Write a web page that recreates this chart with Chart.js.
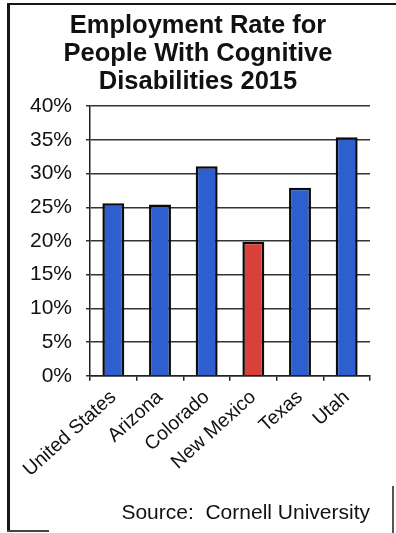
<!DOCTYPE html>
<html>
<head>
<meta charset="utf-8">
<title>Employment Rate for People With Cognitive Disabilities 2015</title>
<script src="https://cdn.jsdelivr.net/npm/chart.js@4.4.1/dist/chart.umd.min.js"></script>
<style>
  html, body { margin: 0; padding: 0; background: #fff; }
  #wrap { position: relative; width: 396px; height: 533px; overflow: hidden; }
  #wrap canvas { position: absolute; left: 0; top: 0; }
  .edge { position: absolute; background: #161616; }
</style>
</head>
<body>
<div id="wrap">
  <canvas id="chart" width="396" height="533"></canvas>
  <!-- frame around the figure -->
  <div class="edge" style="left:7px; top:3px; width:3px; height:528px;"></div>
  <div class="edge" style="left:7px; top:3px; width:389px; height:2px;"></div>
  <div class="edge" style="left:392px; top:486px; width:2px; height:47px; background:#555;"></div>
  <div class="edge" style="left:7px; top:530px; width:42px; height:2px; background:#444;"></div>
</div>
<script>
const states = ['United States', 'Arizona', 'Colorado', 'New Mexico', 'Texas', 'Utah'];
const rates = [25.6, 25.4, 31.1, 19.9, 27.9, 35.4];
const highlightState = 'New Mexico';

const titleLines = ['Employment Rate for', 'People With Cognitive', 'Disabilities 2015'];
const sourceText = 'Source:  Cornell University';

const FONT = "'Liberation Sans', Arial, Helvetica, sans-serif";
const INK = '#111';

new Chart(document.getElementById('chart'), {
    type: 'bar',
    data: {
        labels: states,
        datasets: [{
            data: rates,
            backgroundColor: ctx => states[ctx.dataIndex] === highlightState ? '#d8403a' : '#2d5fcf',
            borderColor: '#0b0b0b',
            borderWidth: 2.5,
            borderSkipped: 'bottom',
            categoryPercentage: 1,
            barPercentage: 0.47
        }]
    },
    options: {
        responsive: false,
        devicePixelRatio: 1,
        animation: false,
        layout: { padding: { left: 26, right: 26, top: 0, bottom: 0 } },
        plugins: {
            legend: { display: false },
            tooltip: { enabled: false },
            title: {
                display: true,
                text: titleLines,
                color: INK,
                font: { family: FONT, size: 25.5, weight: 'bold', lineHeight: 1.1 },
                padding: { top: 12, bottom: 10 }
            },
            subtitle: {
                display: true,
                position: 'bottom',
                align: 'end',
                text: sourceText,
                color: INK,
                font: { family: FONT, size: 21, weight: 'normal', lineHeight: 1.2 },
                padding: { top: 0, bottom: 7 }
            }
        },
        scales: {
            x: {
                grid: {
                    offset: true,
                    drawOnChartArea: false,
                    drawTicks: true,
                    tickLength: 5,
                    color: '#222',
                    lineWidth: 1.5
                },
                border: { color: '#222', width: 1.5 },
                ticks: {
                    autoSkip: false,
                    minRotation: 42,
                    maxRotation: 42,
                    padding: 5,
                    color: INK,
                    font: { family: FONT, size: 19.5 }
                },
                afterFit: scale => { scale.height = 125; }
            },
            y: {
                min: 0,
                max: 40,
                ticks: {
                    stepSize: 5,
                    padding: 14,
                    color: INK,
                    font: { family: FONT, size: 21 },
                    callback: v => v + '%'
                },
                grid: { color: '#333', lineWidth: 1.5, tickLength: 4 },
                border: { color: '#222', width: 1.5 },
                afterFit: scale => { scale.width = 64; }
            }
        }
    }
});
</script>
</body>
</html>
